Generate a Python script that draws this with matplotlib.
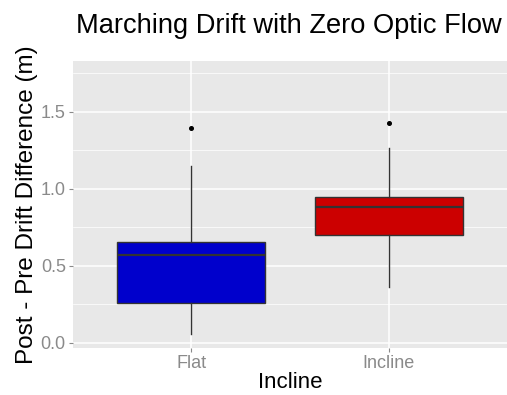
import matplotlib
matplotlib.use("Agg")
import matplotlib.pyplot as plt
from matplotlib.ticker import MultipleLocator

plt.rcParams['font.family'] = ['Liberation Sans', 'DejaVu Sans']

categories = ["Flat", "Incline"]
medians = [0.567, 0.880]
q1 = [0.259, 0.699]
q3 = [0.655, 0.946]
whisker_low = [0.056, 0.360]
whisker_high = [1.145, 1.266]
outliers = [[1.395], [1.425]]
colors = ["#0000CC", "#CC0000"]
yticks = [0.0, 0.5, 1.0, 1.5]
ytick_labels = ["0.0", "0.5", "1.0", "1.5"]

fig = plt.figure(figsize=(5.07, 3.95), dpi=100)
ax = fig.add_axes([0.1434, 0.119, 0.8566, 0.7266])
ax.set_facecolor("#E8E8E8")

stats = []
for i, c in enumerate(categories):
    stats.append(dict(med=medians[i], q1=q1[i], q3=q3[i], whislo=whisker_low[i],
                      whishi=whisker_high[i], fliers=outliers[i], label=c))

bp = ax.bxp(stats, positions=[1, 2], widths=0.75, patch_artist=True, showcaps=False,
            boxprops=dict(edgecolor="#333333", linewidth=1.0),
            medianprops=dict(color="#333333", linewidth=1.6),
            whiskerprops=dict(color="#333333", linewidth=1.0),
            flierprops=dict(marker="o", markersize=2.6, markerfacecolor="black",
                            markeredgecolor="black"), zorder=3)
for patch, col in zip(bp["boxes"], colors):
    patch.set_facecolor(col)

ax.set_xlim(0.4, 2.6)
ax.set_ylim(-0.035, 1.829)
ax.set_yticks(yticks)
ax.set_yticklabels(ytick_labels)
ax.yaxis.set_minor_locator(MultipleLocator(0.25))
ax.set_xticks([1, 2])
ax.set_xticklabels(categories)

ax.grid(which="major", color="white", linewidth=1.1, zorder=0)
ax.grid(which="minor", axis="y", color="white", linewidth=0.5, zorder=0)
ax.set_axisbelow(True)
for s in ax.spines.values():
    s.set_visible(False)
ax.tick_params(axis="both", which="major", length=3, width=0.8, color="#8A8A8A",
               labelcolor="#8A8A8A", labelsize=13, pad=2)
ax.tick_params(axis="both", which="minor", length=0)

ax.set_xlabel("Incline", fontsize=16, color="black", labelpad=0)
ax.set_ylabel("Post - Pre Drift Difference (m)", fontsize=17.5, color="black", labelpad=2)
fig.text(76 / 507, 1 - 33 / 395, "Marching Drift with Zero Optic Flow", fontsize=19.6,
         color="black", ha="left", va="baseline")

fig.savefig("out.png", dpi=100)
